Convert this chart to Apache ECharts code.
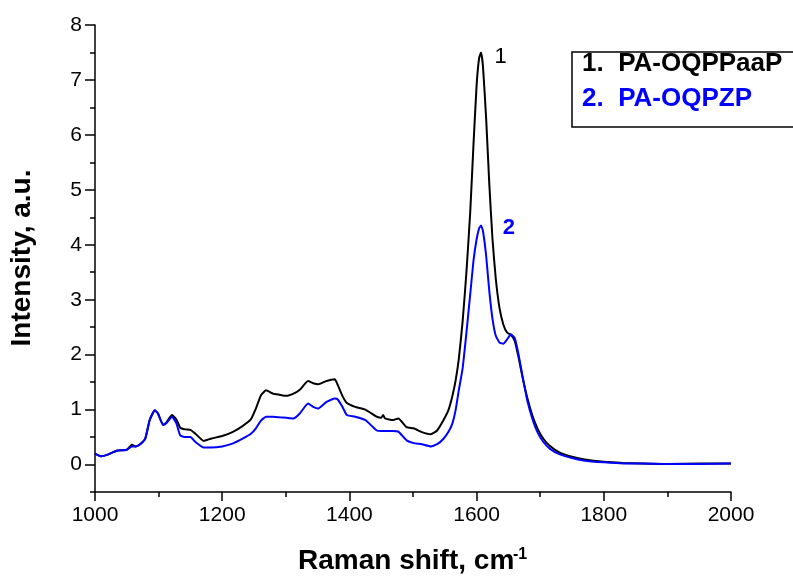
<!DOCTYPE html>
<html>
<head>
<meta charset="utf-8">
<script src="https://cdn.jsdelivr.net/npm/echarts@6/dist/echarts.min.js"></script>
<style>html,body{margin:0;padding:0;background:#fff}#c{width:793px;height:581px}</style>
</head>
<body>
<div id="c"></div>
<script>
var wavenumbers = [1000,1010,1020,1034,1050,1058,1064,1071,1079,1086,1094,1099,1107,1112,1121,1128,1134,1142,1150,1158,1171,1182,1200,1216,1232,1245,1253,1261,1269,1280,1290,1301,1312,1322,1335,1343,1351,1364,1377,1382,1389,1396,1409,1425,1443,1450,1453,1456,1469,1477,1490,1501,1514,1528,1538,1548,1556,1562,1567,1572,1578,1584,1590,1595,1600,1604,1607,1610,1615,1620,1625,1630,1636,1642,1648,1654,1660,1666,1672,1680,1688,1696,1705,1715,1730,1750,1770,1800,1830,1860,1900,1950,2000];
var seriesPAOQPPaaP = [0.20,0.15,0.18,0.25,0.27,0.36,0.33,0.37,0.47,0.81,0.99,0.93,0.72,0.76,0.90,0.82,0.67,0.64,0.63,0.56,0.43,0.47,0.52,0.59,0.70,0.82,1.02,1.26,1.35,1.29,1.27,1.25,1.29,1.36,1.52,1.48,1.46,1.52,1.55,1.44,1.25,1.12,1.05,1.00,0.87,0.85,0.90,0.84,0.81,0.84,0.68,0.66,0.59,0.55,0.62,0.81,1.00,1.25,1.53,1.92,2.6,3.5,4.6,5.8,6.9,7.4,7.5,7.25,6.3,5.1,4.1,3.4,2.85,2.55,2.4,2.36,2.25,1.95,1.6,1.2,0.88,0.65,0.47,0.34,0.22,0.14,0.09,0.05,0.03,0.02,0.01,0.02,0.02];
var seriesPAOQPZP = [0.20,0.15,0.18,0.25,0.27,0.33,0.33,0.37,0.47,0.81,0.99,0.93,0.72,0.75,0.87,0.75,0.53,0.50,0.50,0.41,0.31,0.31,0.33,0.38,0.47,0.56,0.66,0.80,0.87,0.87,0.86,0.85,0.84,0.93,1.11,1.05,1.02,1.14,1.20,1.18,1.05,0.90,0.87,0.81,0.62,0.61,0.61,0.61,0.61,0.60,0.44,0.39,0.37,0.33,0.37,0.47,0.60,0.75,0.99,1.35,1.75,2.4,3.1,3.7,4.1,4.3,4.35,4.25,3.8,3.15,2.65,2.35,2.22,2.2,2.28,2.37,2.3,2.0,1.62,1.15,0.82,0.58,0.41,0.29,0.19,0.12,0.07,0.04,0.02,0.02,0.01,0.01,0.02];
var seriesNames = ['1.  PA-OQPPaaP', '2.  PA-OQPZP'];
var seriesColors = ['#000000', '#0000ff'];
var xTickLabels = [1000,1200,1400,1600,1800,2000];
var yTickLabels = [0,1,2,3,4,5,6,7,8];

function pairs(xs, ys){ return xs.map(function(x,i){ return [x, ys[i]]; }); }

var chart = echarts.init(document.getElementById('c'), null, {renderer:'canvas'});
var G = {left:95, top:25, width:636, height:467};
chart.setOption({
  animation:false,
  backgroundColor:'#ffffff',
  grid:[
    {left:G.left, top:G.top, width:G.width, height:G.height},
    {left:G.left, top:G.top, width:G.width, height:G.height*8/8.5}
  ],
  xAxis:[
    {gridIndex:0, type:'value', min:1000, max:2000, interval:200,
     axisLine:{show:true, onZero:false, lineStyle:{color:'#000', width:1.5}},
     axisTick:{show:true, length:9, lineStyle:{color:'#000', width:1.5}},
     minorTick:{show:true, splitNumber:2, length:5, lineStyle:{color:'#000', width:1.5}},
     splitLine:{show:false},
     axisLabel:{show:true, margin:13, color:'#000', fontSize:21, fontFamily:'"Liberation Sans", Arial, sans-serif',
       formatter:function(v){ return xTickLabels.indexOf(v) >= 0 ? String(v) : ''; }}},
    {gridIndex:1, type:'value', min:1000, max:2000, show:false}
  ],
  yAxis:[
    {gridIndex:0, type:'value', min:-0.5, max:8, interval:0.5,
     axisLine:{show:true, onZero:false, lineStyle:{color:'#000', width:1.5}},
     axisTick:{show:true, length:5, lineStyle:{color:'#000', width:1.5}},
     splitLine:{show:false}, axisLabel:{show:false}},
    {gridIndex:1, type:'value', min:0, max:8, interval:1,
     axisLine:{show:false},
     axisTick:{show:true, length:10, lineStyle:{color:'#000', width:1.5}},
     splitLine:{show:false},
     axisLabel:{show:true, margin:13, color:'#000', fontSize:21, fontFamily:'"Liberation Sans", Arial, sans-serif',
       formatter:function(v){ return yTickLabels.indexOf(v) >= 0 ? String(v) : ''; }}}
  ],
  series:[
    {name:seriesNames[0], type:'line', xAxisIndex:0, yAxisIndex:0, data:pairs(wavenumbers, seriesPAOQPPaaP),
     showSymbol:false, smooth:0.15, lineStyle:{color:seriesColors[0], width:2}, itemStyle:{color:seriesColors[0]}},
    {name:seriesNames[1], type:'line', xAxisIndex:0, yAxisIndex:0, data:pairs(wavenumbers, seriesPAOQPZP),
     showSymbol:false, smooth:0.15, lineStyle:{color:seriesColors[1], width:2}, itemStyle:{color:seriesColors[1]}}
  ]
});

var p1 = chart.convertToPixel({gridIndex:0}, [1628, 7.42]);
var p2 = chart.convertToPixel({gridIndex:0}, [1641, 4.3]);
var boldFont = 'bold 26px "Liberation Sans", Arial, sans-serif';
chart.setOption({
  graphic:[
    {type:'text', x:22, y:258, rotation:Math.PI/2,
     style:{text:'Intensity, a.u.', font:'bold 28px "Liberation Sans", Arial, sans-serif', fill:'#000',
       align:'center', verticalAlign:'middle', textAlign:'center', textVerticalAlign:'middle'}},
    {type:'text', x:298, y:575,
     style:{text:'Raman shift, cm', font:'bold 28px "Liberation Sans", Arial, sans-serif', fill:'#000',
       align:'left', verticalAlign:'bottom', textAlign:'left', textVerticalAlign:'bottom'}},
    {type:'text', x:513, y:547,
     style:{text:'-1', font:'bold 16px "Liberation Sans", Arial, sans-serif', fill:'#000',
       align:'left', verticalAlign:'top', textAlign:'left', textVerticalAlign:'top'}},
    {type:'rect', shape:{x:572, y:52, width:230, height:75},
     style:{fill:'#ffffff', stroke:'#000', lineWidth:1.5}, z:10},
    {type:'text', x:582, y:64, z:11,
     style:{text:seriesNames[0], font:boldFont, fill:seriesColors[0],
       align:'left', verticalAlign:'middle', textAlign:'left', textVerticalAlign:'middle'}},
    {type:'text', x:582, y:99, z:11,
     style:{text:seriesNames[1], font:boldFont, fill:seriesColors[1],
       align:'left', verticalAlign:'middle', textAlign:'left', textVerticalAlign:'middle'}},
    {type:'text', x:p1[0], y:p1[1],
     style:{text:'1', font:'22px "Liberation Sans", Arial, sans-serif', fill:'#000',
       align:'left', verticalAlign:'middle', textAlign:'left', textVerticalAlign:'middle'}},
    {type:'text', x:p2[0], y:p2[1],
     style:{text:'2', font:'bold 22px "Liberation Sans", Arial, sans-serif', fill:'#0000ff',
       align:'left', verticalAlign:'middle', textAlign:'left', textVerticalAlign:'middle'}}
  ]
});
</script>
</body>
</html>
